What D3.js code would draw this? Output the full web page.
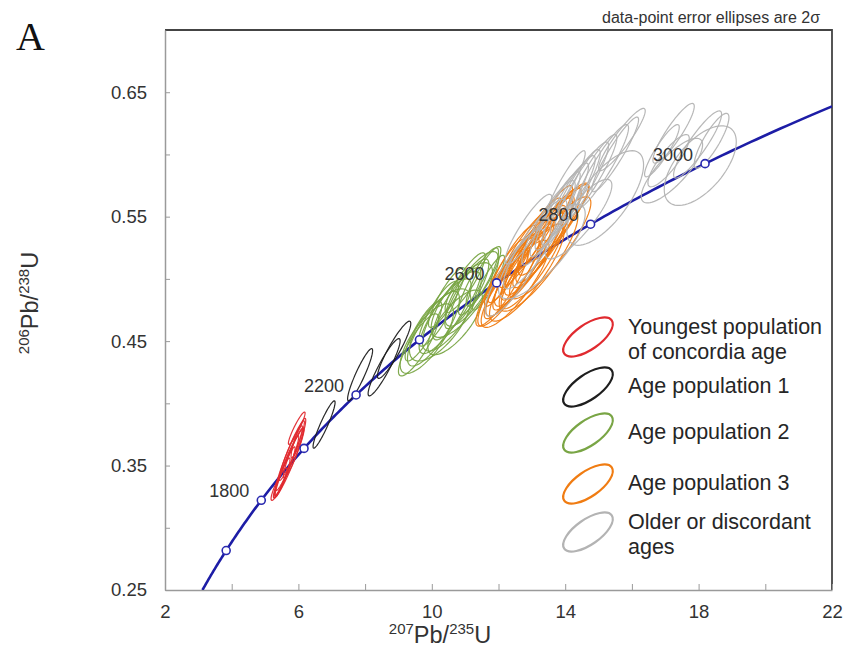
<!DOCTYPE html>
<html><head><meta charset="utf-8">
<script src="https://cdn.jsdelivr.net/npm/d3@7"></script>
<style>
body{margin:0;background:#fff;}
svg{display:block;font-family:"Liberation Sans",Arial,sans-serif;}
</style></head>
<body><svg id="c" width="847" height="650"></svg>
<script>
// ---------- data ----------
const xTickValues = [2,4,6,8,10,12,14,16,18,20,22];
const xTickLabels = [2,6,10,14,18,22];
const yTickValues = [0.25,0.30,0.35,0.40,0.45,0.50,0.55,0.60,0.65];
const yTickLabels = [0.25,0.35,0.45,0.55,0.65];
const concordiaMarkerAges = [1600,1800,2000,2200,2400,2600,2800,3000];
const concordiaLabelAges = [1800,2200,2600,2800,3000];
const lambda238 = 1.55125e-10, lambda235 = 9.8485e-10;

// ellipses: [x(207/235), y(206/238), 2σx, 2σy, rho]
const redEllipses = [
  [5.95,0.380,0.25,0.013,0.93],[6.00,0.372,0.22,0.016,0.90],[5.80,0.362,0.38,0.024,0.95],
  [5.72,0.356,0.40,0.026,0.95],[5.65,0.350,0.36,0.024,0.96],[5.85,0.360,0.30,0.020,0.93],
  [5.60,0.345,0.30,0.020,0.95],[5.50,0.340,0.25,0.016,0.93],[5.72,0.352,0.45,0.028,0.96],
  [5.42,0.335,0.24,0.013,0.90]
];
const blackEllipses = [
  [6.77,0.383,0.33,0.019,0.93],[7.85,0.423,0.375,0.021,0.92],
  [8.57,0.429,0.48,0.023,0.92],[8.87,0.443,0.50,0.023,0.92]
];
const greenEllipses = [
  [9.60,0.447,0.60,0.025,0.85],[9.85,0.452,0.80,0.028,0.75],[10.05,0.460,0.78,0.030,0.80],
  [10.25,0.463,0.92,0.029,0.70],[10.40,0.470,0.78,0.030,0.82],[10.60,0.474,0.88,0.032,0.78],
  [10.75,0.480,0.72,0.029,0.85],[10.90,0.483,0.92,0.030,0.75],[11.05,0.488,0.66,0.028,0.85],
  [11.20,0.492,0.80,0.030,0.80],[11.40,0.498,0.60,0.027,0.88],[11.55,0.502,0.52,0.024,0.88],
  [10.20,0.472,0.60,0.026,0.85],[10.70,0.465,0.82,0.026,0.75],[11.00,0.497,0.60,0.024,0.88],
  [11.70,0.497,0.48,0.022,0.90],[9.75,0.458,0.55,0.024,0.85],[10.45,0.485,0.55,0.024,0.88]
];
const orangeEllipses = [
  [12.10,0.493,0.78,0.031,0.88],[12.30,0.498,0.92,0.036,0.88],[12.45,0.503,0.88,0.035,0.90],
  [12.60,0.508,0.98,0.038,0.88],[12.75,0.512,0.92,0.037,0.90],[12.90,0.517,1.02,0.039,0.88],
  [13.05,0.521,0.98,0.038,0.90],[13.20,0.526,1.02,0.039,0.90],[13.35,0.530,0.92,0.037,0.90],
  [13.50,0.535,0.98,0.038,0.90],[13.65,0.540,1.05,0.037,0.92],[13.80,0.545,0.92,0.031,0.92],
  [12.50,0.496,1.02,0.035,0.85],[12.85,0.505,1.12,0.039,0.85],[13.20,0.515,1.18,0.041,0.85],
  [12.40,0.512,0.72,0.031,0.90],[12.80,0.524,0.78,0.031,0.90],[13.10,0.534,0.78,0.031,0.92],
  [13.40,0.542,0.82,0.033,0.92],[12.20,0.505,0.62,0.027,0.90],[13.00,0.510,0.92,0.034,0.88],
  [13.55,0.525,1.22,0.041,0.88]
];
const grayEllipses = [
  [12.50,0.505,0.90,0.035,0.85],[13.10,0.528,0.95,0.036,0.88],[13.50,0.545,0.80,0.034,0.90],
  [13.70,0.552,0.75,0.034,0.92],[13.90,0.558,0.80,0.035,0.92],[14.10,0.563,0.80,0.036,0.92],
  [14.30,0.570,0.75,0.034,0.92],[14.50,0.575,0.80,0.035,0.92],[14.80,0.583,0.75,0.033,0.92],
  [15.10,0.590,0.80,0.034,0.92],[15.50,0.600,0.70,0.030,0.93],[15.70,0.612,0.70,0.025,0.92],
  [15.20,0.565,1.15,0.038,0.70],[13.30,0.522,1.30,0.038,0.80],[14.00,0.575,0.60,0.028,0.93],
  [14.40,0.548,1.00,0.032,0.85],[12.90,0.540,0.70,0.028,0.90],
  [17.25,0.617,0.62,0.024,0.90],[18.05,0.591,1.08,0.032,0.60],[17.97,0.608,0.72,0.027,0.90],
  [18.39,0.611,0.52,0.022,0.85],[17.10,0.595,0.62,0.021,0.85],[17.20,0.587,0.92,0.026,0.80],
  [16.90,0.603,0.52,0.021,0.90]
];
const legendLabels = [["Youngest population","of concordia age"],["Age population 1"],["Age population 2"],["Age population 3"],["Older or discordant","ages"]];
const groupColors = ["#e02a2f","#1e1e1e","#79a545","#f07c12","#b3b3b3"];

// ---------- layout ----------
const svg = d3.select("#c");
const x = d3.scaleLinear().domain([2,22]).range([165,832]);
const y = d3.scaleLinear().domain([0.25,0.70]).range([590,30]);
const font = '"Liberation Sans",Arial,sans-serif';

svg.append("text").attr("x",16).attr("y",50).attr("font-family",'"Liberation Serif","Times New Roman",serif')
  .attr("font-size",40).attr("fill","#111").text("A");
svg.append("text").attr("x",820).attr("y",23).attr("text-anchor","end").attr("font-size",16)
  .attr("fill","#333").text("data-point error ellipses are 2σ");

svg.append("defs").append("clipPath").attr("id","clip").append("rect")
  .attr("x",165).attr("y",30).attr("width",667).attr("height",560);

// frame: top & right dark
svg.append("path").attr("d",`M${x(2)},${y(0.70)}H${x(22)}V${y(0.25)}`).attr("fill","none")
  .attr("stroke","#444").attr("stroke-width",1.8);

// axes
const xAxis = d3.axisBottom(x).tickValues(xTickValues).tickSize(-6).tickSizeOuter(0).tickPadding(15)
  .tickFormat(d => xTickLabels.includes(d) ? d : "");
const gx = svg.append("g").attr("transform",`translate(0,${y(0.25)})`).call(xAxis);
const yAxis = d3.axisLeft(y).tickValues(yTickValues).tickSize(-5).tickSizeOuter(0).tickPadding(18)
  .tickFormat(d => yTickLabels.some(v=>Math.abs(v-d)<1e-9) ? d3.format(".2f")(d) : "");
const gy = svg.append("g").attr("transform",`translate(${x(2)},0)`).call(yAxis);
[gx,gy].forEach(g=>{
  g.select(".domain").attr("stroke","#9a9a9a").attr("stroke-width",1.5);
  g.selectAll(".tick line").attr("stroke","#9a9a9a").attr("stroke-width",1);
  g.selectAll(".tick text").attr("font-family",font).attr("font-size",18.5).attr("fill","#333");
});

// axis titles
const xt = svg.append("text").attr("x",440).attr("y",643).attr("text-anchor","middle").attr("fill","#333").attr("font-size",23.5);
xt.append("tspan").attr("font-size",15).attr("dy",-9).text("207");
xt.append("tspan").attr("dy",9).text("Pb/");
xt.append("tspan").attr("font-size",15).attr("dy",-9).text("235");
xt.append("tspan").attr("dy",9).text("U");
const yt = svg.append("text").attr("transform","translate(38,303) rotate(-90)").attr("text-anchor","middle").attr("fill","#333").attr("font-size",23.5);
yt.append("tspan").attr("font-size",15).attr("dy",-9).text("206");
yt.append("tspan").attr("dy",9).text("Pb/");
yt.append("tspan").attr("font-size",15).attr("dy",-9).text("238");
yt.append("tspan").attr("dy",9).text("U");

// concordia curve
const conc = t => [Math.exp(lambda235*t*1e6)-1, Math.exp(lambda238*t*1e6)-1];
const tMin = Math.log(1.25)/lambda238/1e6, tMax = Math.log(23)/lambda235/1e6;
const curvePts = d3.range(0,201).map(i => conc(tMin + (tMax-tMin)*i/200));
const plot = svg.append("g").attr("clip-path","url(#clip)");
plot.append("path").datum(curvePts)
  .attr("d", d3.line().x(d=>x(d[0])).y(d=>y(d[1])))
  .attr("fill","none").attr("stroke","#1d1da6").attr("stroke-width",2.6);

// ellipses
function ellipsePoints(e){
  const [cx,cy,sx,sy,r] = e, q = Math.sqrt(1-r*r);
  return d3.range(72).map(i=>{const a=2*Math.PI*i/72;
    return [cx+sx*Math.cos(a), cy+sy*(r*Math.cos(a)+q*Math.sin(a))];});
}
const ellLine = d3.line().x(d=>x(d[0])).y(d=>y(d[1])).curve(d3.curveLinearClosed);
const groups = [[greenEllipses,2],[orangeEllipses,3],[grayEllipses,4],[blackEllipses,1],[redEllipses,0]];
groups.forEach(([arr,ci])=>{
  plot.append("g").selectAll("path").data(arr).join("path")
    .attr("d", d=>ellLine(ellipsePoints(d)))
    .attr("fill","none").attr("stroke",groupColors[ci]).attr("stroke-width",1.2).attr("stroke-opacity",0.95);
});

// markers and labels
svg.append("g").selectAll("circle").data(concordiaMarkerAges).join("circle")
  .attr("cx",t=>x(conc(t)[0])).attr("cy",t=>y(conc(t)[1])).attr("r",4)
  .attr("fill","#fff").attr("stroke","#2a2ab0").attr("stroke-width",1.6);
svg.append("g").selectAll("text").data(concordiaLabelAges).join("text")
  .attr("x",t=>x(conc(t)[0])-12).attr("y",t=>y(conc(t)[1])-3).attr("text-anchor","end")
  .attr("font-size",18).attr("fill","#333").text(t=>t);

// legend
const legY = [337,387,433,484,532];
const lg = svg.append("g");
legendLabels.forEach((lines,i)=>{
  lg.append("ellipse").attr("cx",588).attr("cy",legY[i]).attr("rx",29).attr("ry",12.5)
    .attr("transform",`rotate(-35,588,${legY[i]})`).attr("fill","none")
    .attr("stroke",groupColors[i]).attr("stroke-width",2.2);
  const t = lg.append("text").attr("x",628).attr("font-size",21.5).attr("fill","#262626");
  if(lines.length===1){ t.attr("y",legY[i]+6).text(lines[0]); }
  else { t.attr("y",legY[i]-3).text(lines[0]);
         lg.append("text").attr("x",628).attr("y",legY[i]+22).attr("font-size",21.5).attr("fill","#262626").text(lines[1]); }
});
</script></body></html>
